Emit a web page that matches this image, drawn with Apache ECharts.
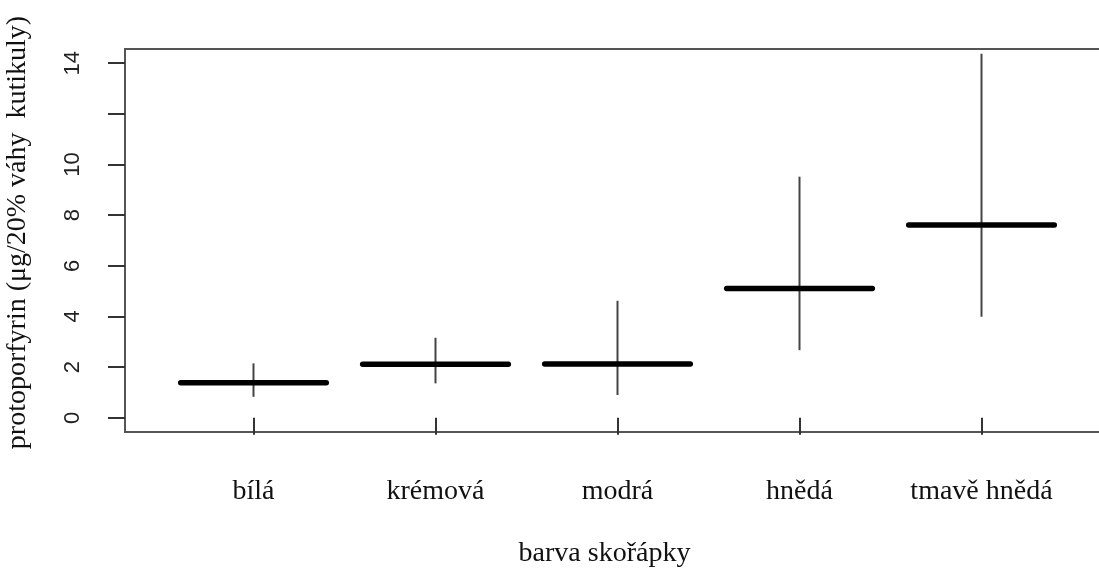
<!DOCTYPE html>
<html>
<head>
<meta charset="utf-8">
<script src="https://cdn.jsdelivr.net/npm/echarts@6/dist/echarts.min.js"></script>
<style>html,body{margin:0;padding:0;background:#fff}#c{width:1099px;height:569px}</style>
</head>
<body>
<div id="c"></div>
<script>
const categories = ['bílá', 'krémová', 'modrá', 'hnědá', 'tmavě hnědá'];
const means = [1.38, 2.11, 2.12, 5.11, 7.61];
const lows = [0.83, 1.36, 0.90, 2.67, 3.99];
const highs = [2.15, 3.16, 4.62, 9.52, 14.37];
const yTicks = [0, 2, 4, 6, 8, 10, 12, 14];
const yLabels = [0, 2, 4, 6, 8, 10, 14];
const xTitle = 'barva skořápky';
const yTitle = 'protoporfyrin (μg/20% váhy  kutikuly)';

const positions = categories.map((c, i) => i + 1);
const seriesData = categories.map((c, i) => [positions[i], lows[i], highs[i], means[i]]);
const HALF = 0.4;

const chart = echarts.init(document.getElementById('c'), null, {renderer: 'canvas'});
chart.setOption({
  animation: false,
  backgroundColor: '#fff',
  grid: {left: 125, top: 49, width: 985, height: 383, show: true, borderColor: '#555', borderWidth: 2,
    backgroundColor: 'transparent', containLabel: false, outerBoundsMode: 'none'},
  xAxis: {
    type: 'value', min: 0.294, max: 5.706,
    splitLine: {show: false},
    axisLine: {show: false},
    axisTick: {show: true, customValues: positions, length: 17, lineStyle: {color: '#333', width: 2}},
    axisLabel: {customValues: positions, margin: 46, fontFamily: 'Liberation Serif', fontSize: 28, color: '#111',
      formatter: v => categories[Math.round(v) - 1]},
    name: xTitle, nameLocation: 'middle', nameGap: 108,
    nameTextStyle: {fontFamily: 'Liberation Serif', fontSize: 28, color: '#111', padding: [0, 26, 0, 0]}
  },
  yAxis: {
    type: 'value', min: -0.56, max: 14.56,
    splitLine: {show: false},
    axisLine: {show: false},
    axisTick: {show: true, customValues: yTicks, length: 17, lineStyle: {color: '#333', width: 2}},
    axisLabel: {customValues: yLabels, rotate: 90, margin: 41, fontFamily: 'Liberation Sans', fontSize: 22, color: '#222'},
    name: yTitle, nameLocation: 'middle', nameRotate: 90, nameGap: 93,
    nameTextStyle: {fontFamily: 'Liberation Serif', fontSize: 28, color: '#111', padding: [0, 0, 0, 16]}
  },
  series: [{
    type: 'custom',
    data: seriesData,
    renderItem: function (params, api) {
      const x = api.value(0);
      const lo = api.coord([x, api.value(1)]);
      const hi = api.coord([x, api.value(2)]);
      const mL = api.coord([x - HALF, api.value(3)]);
      const mR = api.coord([x + HALF, api.value(3)]);
      return {
        type: 'group',
        children: [
          {type: 'line', shape: {x1: lo[0], y1: lo[1], x2: hi[0], y2: hi[1]}, style: {stroke: '#444', lineWidth: 2}},
          {type: 'line', shape: {x1: mL[0], y1: mL[1], x2: mR[0], y2: mR[1]}, style: {stroke: '#000', lineWidth: 5.5, lineCap: 'round'}}
        ]
      };
    }
  }]
});
</script>
</body>
</html>
